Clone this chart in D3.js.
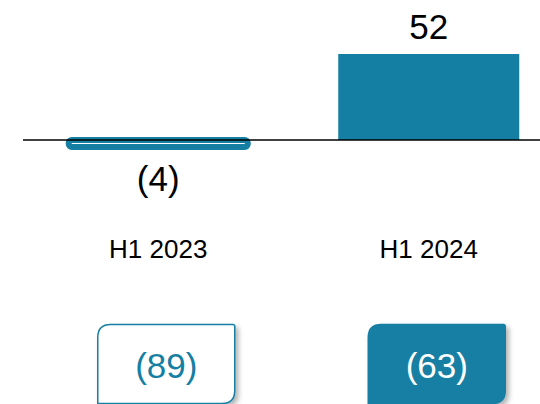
<!DOCTYPE html>
<html>
<head>
<meta charset="utf-8">
<script src="https://cdn.jsdelivr.net/npm/d3@7"></script>
<style>
  html, body { margin: 0; padding: 0; background: #fff; }
  svg { display: block; font-family: "Liberation Sans", Arial, sans-serif; }
</style>
</head>
<body>
<svg id="chart" width="540" height="404"></svg>
<script>
const categories = ["H1 2023", "H1 2024"];
const values = [-4, 52];
const boxValues = [-89, -63];
const boxFilled = [false, true];

const W = 540, H = 404;
const teal = "#157fa3";
const svg = d3.select("#chart");

const defs = svg.append("defs");
const f = defs.append("filter").attr("id", "shadow")
  .attr("x", "-10%").attr("y", "-10%").attr("width", "130%").attr("height", "130%");
f.append("feDropShadow").attr("dx", 3).attr("dy", 3).attr("stdDeviation", 2.5)
  .attr("flood-color", "#000").attr("flood-opacity", 0.3);

const x = d3.scaleBand().domain(categories).range([23, 564]).paddingInner(0).paddingOuter(0);
const barW = 181;
const y = d3.scaleLinear().domain([0, 52]).range([140, 54]);

const fmt = v => v < 0 ? "(" + Math.abs(v) + ")" : String(v);

// bars
categories.forEach((c, i) => {
  const v = values[i];
  const cx = x(c) + x.bandwidth() / 2;
  if (v >= 0) {
    svg.append("rect")
      .attr("x", cx - barW / 2).attr("y", y(v))
      .attr("width", barW).attr("height", y(0) - y(v))
      .attr("fill", teal);
    svg.append("text")
      .attr("x", cx).attr("y", y(v) - 15)
      .attr("text-anchor", "middle").attr("font-size", 35).attr("fill", "#000")
      .text(fmt(v));
  } else {
    svg.append("rect")
      .attr("x", cx - barW / 2 + 1).attr("y", y(0))
      .attr("width", barW - 2).attr("height", y(v) - y(0) + 0.4)
      .attr("rx", 3)
      .attr("fill", "#fff").attr("stroke", teal).attr("stroke-width", 6);
    svg.append("text")
      .attr("x", cx).attr("y", 191)
      .attr("text-anchor", "middle").attr("font-size", 35).attr("fill", "#000")
      .text(fmt(v));
  }
  svg.append("text")
    .attr("x", cx).attr("y", 258)
    .attr("text-anchor", "middle").attr("font-size", 26).attr("fill", "#000")
    .text(c);
});

// baseline
svg.append("line")
  .attr("x1", 23).attr("x2", W).attr("y1", y(0)).attr("y2", y(0))
  .attr("stroke", "#000").attr("stroke-width", 1.6);

// boxes
function boxPath(x0, y0, w, h, r, rs) {
  return `M${x0},${y0 + r} Q${x0},${y0} ${x0 + r},${y0} L${x0 + w - rs},${y0} Q${x0 + w},${y0} ${x0 + w},${y0 + rs} ` +
    `L${x0 + w},${y0 + h - r} Q${x0 + w},${y0 + h} ${x0 + w - r},${y0 + h} L${x0},${y0 + h} Z`;
}
categories.forEach((c, i) => {
  const cx = x(c) + x.bandwidth() / 2 + 8;
  const bw = 137, bh = 79, by = 324.5;
  const bx = cx - bw / 2;
  svg.append("path")
    .attr("d", boxPath(bx, by, bw, bh, 13, 2))
    .attr("fill", boxFilled[i] ? teal : "#fff")
    .attr("stroke", teal).attr("stroke-width", 1.5)
    .attr("filter", "url(#shadow)");
  svg.append("text")
    .attr("x", cx).attr("y", 378)
    .attr("text-anchor", "middle").attr("font-size", 35)
    .attr("fill", boxFilled[i] ? "#fff" : teal)
    .text(fmt(boxValues[i]));
});
</script>
</body>
</html>
